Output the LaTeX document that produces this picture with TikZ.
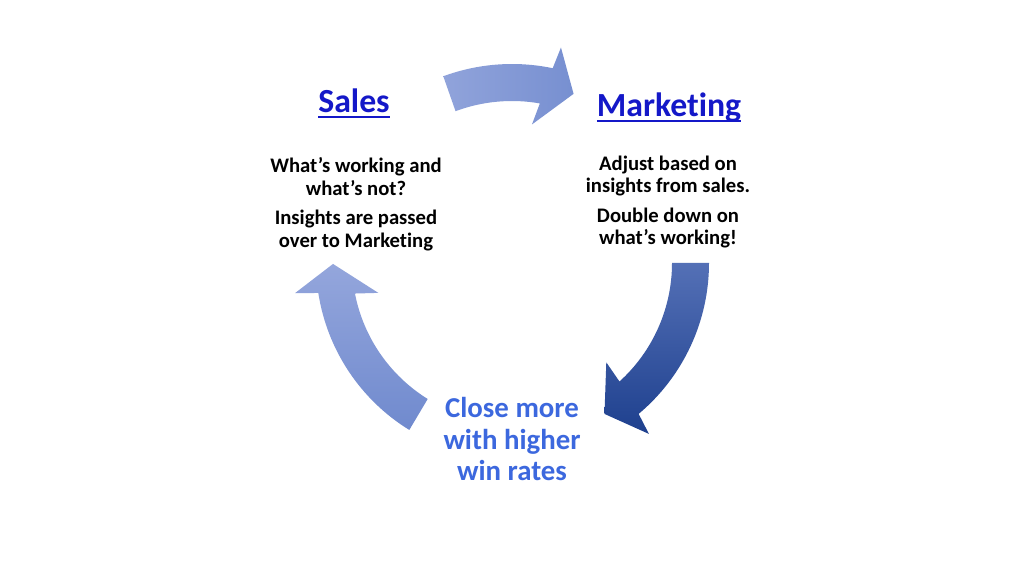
\documentclass[tikz,border=0pt]{standalone}
\usepackage{fontspec}
\setmainfont{Carlito}[Ligatures=NoCommon]
\usepackage{xcolor}
\usetikzlibrary{calc}

\definecolor{titleblue}{RGB}{20,24,200}
\definecolor{goalblue}{RGB}{60,104,222}
\definecolor{arrowlight}{RGB}{148,166,220}
\definecolor{arrowmid}{RGB}{112,138,206}
\definecolor{arrowdark}{RGB}{84,112,182}
\definecolor{arrowdeep}{RGB}{30,64,142}

% underline at a fixed depth, as in the slide
\newcommand{\ulink}[1]{\setbox0\hbox{#1}\rlap{\rule[-0.16em]{\wd0}{0.06em}}\box0}

\begin{document}
\begin{tikzpicture}[x=0.025cm, y=0.025cm,
  title/.style={font=\fontsize{24}{28}\selectfont\bfseries, text=titleblue,
    inner sep=0pt, anchor=base},
  body/.style={font=\fontsize{14.7}{16}\selectfont\bfseries, align=center,
    inner sep=0pt},
  goal/.style={font=\fontsize{20.5}{22.5}\selectfont\bfseries, text=goalblue,
    align=center, inner sep=0pt},
]

\path[use as bounding box, fill=white] (0,0) rectangle (1024,-576);
\coordinate (c) at (512,-263);

% Sales
\node[title] (sales) at (354,-113) {\ulink{Sales}};
\node[body] (salestext) at (356,-204) {%
  What’s working and\\
  what’s not?\\[5pt]
  Insights are passed\\
  over to Marketing};

% Marketing
\node[title] (marketing) at (669,-117) {\ulink{Marketing}};
\node[body] (markettext) at (668,-202) {%
  Adjust based on\\
  insights from sales.\\[5pt]
  Double down on\\
  what’s working!};

% Goal
\node[goal] (goal) at (512,-439) {%
  Close more\\
  with higher\\
  win rates};

% Sales -> Marketing
\shade[left color=arrowlight!90!arrowmid, right color=arrowmid!80!arrowlight]
  ($(c)+(110.2:199)$) arc[start angle=110.2, end angle=78.2, radius=199]
  -- ($(c)+(77.2:221)$) -- ($(c)+(70:180)$) -- ($(c)+(81.8:140)$)
  -- ($(c)+(80.1:162)$) arc[start angle=80.1, end angle=110.4, radius=162]
  -- cycle;

% Marketing -> Goal
\shade[top color=arrowdark, bottom color=arrowdeep]
  ($(c)+(0:197)$) arc[start angle=0, end angle=-50, radius=197]
  -- ($(c)+(-51.3:219)$) -- ($(c)+(-58.5:177)$) -- ($(c)+(-46.5:137)$)
  -- ($(c)+(-47.8:160)$) arc[start angle=-47.8, end angle=0, radius=160]
  -- cycle;

% Goal -> Sales
\shade[top color=arrowlight, bottom color=arrowmid]
  ($(c)+(238.4:196)$) arc[start angle=238.4, end angle=188.8, radius=196]
  -- ($(c)+(187.9:219)$) -- ($(c)+(180.3:179)$) -- ($(c)+(192.6:137)$)
  -- ($(c)+(191:160)$) arc[start angle=191, end angle=238.2, radius=160]
  -- cycle;

\end{tikzpicture}
\end{document}
